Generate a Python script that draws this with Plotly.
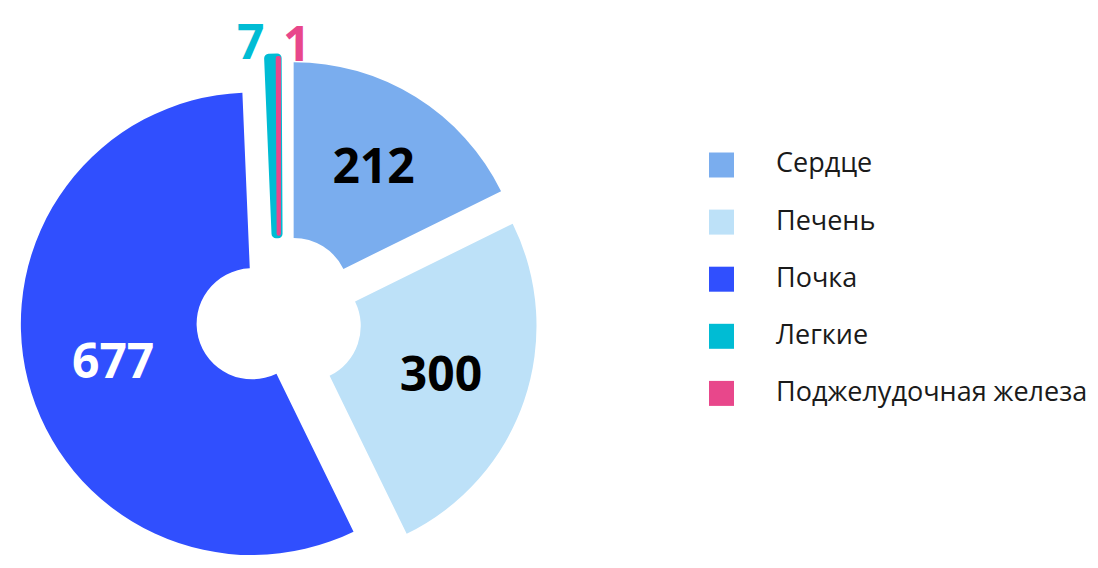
import plotly.graph_objects as go

# ---- data ----
categories = ["Сердце", "Печень", "Почка", "Легкие", "Поджелудочная железа"]
values = [212, 300, 677, 7, 1]
colors = ["#7AADEE", "#BDE1F8", "#304FFE", "#00BCD4", "#E8478B"]
label_colors = ["#000000", "#000000", "#FFFFFF", "#00BCD4", "#E8478B"]
label_inside = [True, True, True, False, False]

W, H = 1098, 568
OFF = 8  # page body margin offset (px)

# pie geometry in screen pixels
pie_cx, pie_cy = 279, 317
half = 259
pull = 0.12

cxf, cyf = pie_cx - OFF, pie_cy - OFF
fig = go.Figure(go.Pie(
    labels=categories,
    values=values,
    sort=False,
    direction="clockwise",
    rotation=0,
    hole=0.24,
    pull=pull,
    marker=dict(colors=colors,
                line=dict(color=colors, width=[0, 0, 0, 9, 4])),
    textposition=["inside" if f else "none" for f in label_inside],
    texttemplate="%{value}",
    insidetextorientation="horizontal",
    insidetextfont=dict(family="Open Sans", size=48, color=label_colors, weight="bold"),
    domain=dict(x=[(cxf - half) / W, (cxf + half) / W],
                y=[0, 2 * (1 - cyf / H)]),
    showlegend=False,
    hoverinfo="skip",
))

# outside labels for the thin slices
fig.add_annotation(x=(250 - OFF) / W, y=1 - (40 - OFF) / H, xref="paper", yref="paper",
                   text=str(values[3]), showarrow=False,
                   xanchor="center", yanchor="middle",
                   font=dict(family="Open Sans", size=48, color=label_colors[3], weight="bold"))
fig.add_annotation(x=(296 - OFF) / W, y=1, xref="paper", yref="paper",
                   text=str(values[4]), showarrow=False,
                   xanchor="center", yanchor="top",
                   font=dict(family="Open Sans", size=48, color=label_colors[4], weight="bold"))

# legend (screen px)
for i, (cat, col) in enumerate(zip(categories, colors)):
    yc = 165 + 57.1 * i - OFF
    fig.add_shape(type="rect", xref="paper", yref="paper",
                  x0=(709 - OFF) / W, x1=(734 - OFF) / W,
                  y0=1 - (yc + 12.5) / H, y1=1 - (yc - 12.5) / H,
                  fillcolor=col, line_width=0)
    fig.add_annotation(x=(774 - OFF) / W, y=1 - (yc - 3) / H, xref="paper", yref="paper",
                       text=cat, showarrow=False, xanchor="left", yanchor="middle",
                       font=dict(family="Open Sans", size=27, color="#1A1A1A"))

fig.update_layout(
    width=W, height=H,
    margin=dict(l=0, r=0, t=0, b=0),
    paper_bgcolor="white",
    plot_bgcolor="white",
    showlegend=False,
)

fig.write_html("out.html")
